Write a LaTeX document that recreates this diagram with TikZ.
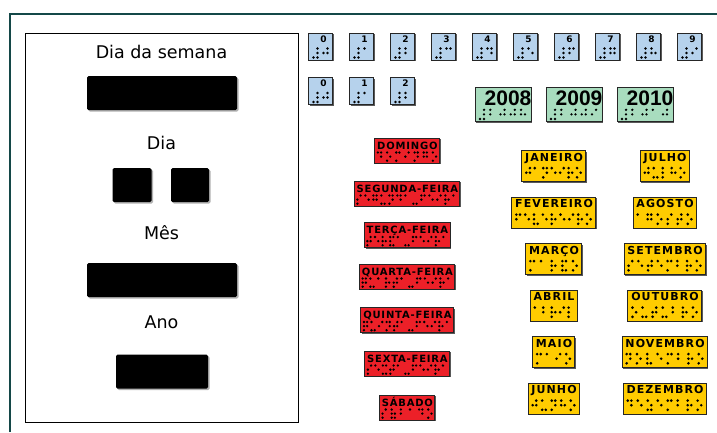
\documentclass[tikz,border=0pt]{standalone}
\usepackage{fontspec}
\setmainfont{DejaVu Sans}
\newfontfamily\dayfont[LetterSpace=8]{DejaVu Sans}
\newfontfamily\monthfont[LetterSpace=10]{DejaVu Sans}
\newfontfamily\yearfont{Liberation Sans}
\usetikzlibrary{shadows}
\definecolor{framecol}{RGB}{20,72,72}
\definecolor{digblue}{RGB}{182,210,236}
\definecolor{yeargreen}{RGB}{168,220,190}
\definecolor{dayred}{RGB}{236,32,40}
\definecolor{monthyellow}{RGB}{255,204,0}
% braille letters
\def\brldef#1#2{\expandafter\def\csname brl:#1\endcsname{#2}}
\brldef{A}{1}\brldef{B}{1,2}\brldef{C}{1,4}\brldef{D}{1,4,5}\brldef{E}{1,5}
\brldef{F}{1,2,4}\brldef{G}{1,2,4,5}\brldef{H}{1,2,5}\brldef{I}{2,4}\brldef{J}{2,4,5}
\brldef{K}{1,3}\brldef{L}{1,2,3}\brldef{M}{1,3,4}\brldef{N}{1,3,4,5}\brldef{O}{1,3,5}
\brldef{P}{1,2,3,4}\brldef{Q}{1,2,3,4,5}\brldef{R}{1,2,3,5}\brldef{S}{2,3,4}\brldef{T}{2,3,4,5}
\brldef{U}{1,3,6}\brldef{V}{1,2,3,6}\brldef{X}{1,3,4,6}\brldef{Z}{1,3,5,6}
\brldef{Ç}{1,2,3,4,6}\brldef{Á}{1,2,3,5,6}\brldef{-}{3,6}\brldef{+}{3,4,5,6}
\newcount\brln \newcount\brli \newdimen\brltmp
\def\brlcountloop#1{\ifx#1\relax\else\advance\brln by 1 \expandafter\brlcountloop\fi}
\def\brlcellloop#1{\ifx#1\relax\else\brlcell{#1}\advance\brli by 1 \expandafter\brlcellloop\fi}
\newcommand\brlcell[1]{%
  \edef\brldots{\csname brl:#1\endcsname}%
  \edef\brlii{\the\brli}%
  \foreach \dd in \brldots {%
    \pgfmathsetmacro\bcx{\bx+\brlii*\bp+(\dd>3)*\bdx}%
    \pgfmathsetmacro\bcy{\by+mod(\dd-1,3)*\bdy}%
    \fill (\bcx,\bcy) circle[radius=\brr];}}
% \brl{left}{right}{top}{dx}{dy}{r}{string}
\newcommand\brl[7]{%
  \pgfmathsetmacro\bx{#1}\pgfmathsetmacro\by{#3}%
  \def\bdx{#4}\def\bdy{#5}\def\brr{#6}%
  \brln=0 \brlcountloop#7\relax
  \edef\nn{\the\brln}%
  \pgfmathsetmacro\bp{((#2)-(#1)-#4)/max(\nn-1,1)}%
  \brli=0 \brlcellloop#7\relax}
\newcommand\anchorx[3]{\pgfextractx{\brltmp}{\pgfpointanchor{#1}{#2}}\pgfmathsetmacro#3{\brltmp}}
% tiles
\newcommand\daytile[3]{%
  \node[daybox] (#1) at (407,#2) {#3\kern-0.08em};
  \anchorx{#1}{west}\wx \anchorx{#1}{east}\ex
  \brl{\wx+3.5}{\ex-3.5}{#2+2}{3.2}{4.1}{1.3}{#3}}
\newcommand\monthtile[4]{%
  \node[monthbox] (#1) at (#2,#3) {#4\kern-0.1em};
  \anchorx{#1}{west}\wx \anchorx{#1}{east}\ex
  \brl{\wx+5}{\ex-5}{#3+2.1}{3.6}{4.6}{1.45}{#4}}
\newcommand\digtile[5]{%
  \node[digbox] (#1) at (#2,#3) {};
  \node[digtext] (#1t) at (#2+3,#3-7.5) {#4};
  \brl{#2-7}{#2+7}{#3+2}{4}{4.5}{1.3}{#5}}
\newcommand\yeartile[4]{%
  \node[yearbox] (#1) at (#2,104.5) {};
  \node[yeartext] (#1t) at (#2+5,105) {#3};
  \brl{#2-23}{#2+22}{109.8}{4}{4.6}{1.3}{#4}}
\begin{document}
\begin{tikzpicture}[x=1pt,y=-1pt,
  tshadow/.style={drop shadow={shadow xshift=1.4pt,shadow yshift=-1.4pt,fill=black!65,opacity=1}},
  barshadow/.style={drop shadow={shadow xshift=1.5pt,shadow yshift=-1.5pt,fill=black!30,opacity=1}},
  daybox/.style={draw=black!85,line width=0.6pt,fill=dayred,inner xsep=2.5pt,inner ysep=0pt,
     text height=11pt,text depth=14pt,font=\dayfont\bfseries\fontsize{10}{11}\selectfont,tshadow},
  monthbox/.style={draw=black!85,line width=0.6pt,fill=monthyellow,inner xsep=3.5pt,inner ysep=0pt,
     text height=10.5pt,text depth=20.5pt,font=\monthfont\bfseries\fontsize{11}{12}\selectfont,tshadow},
  digbox/.style={draw=black!85,line width=0.6pt,fill=digblue,minimum width=24,minimum height=27,inner sep=0pt,tshadow},
  digtext/.style={font=\bfseries\fontsize{9}{10}\selectfont,inner sep=0pt},
  yearbox/.style={draw=black!85,line width=0.6pt,fill=yeargreen,minimum width=56,minimum height=34,inner sep=0pt,tshadow},
  yeartext/.style={font=\yearfont\bfseries\fontsize{21}{22}\selectfont,inner sep=0pt,anchor=base},
  paneltext/.style={font=\fontsize{17.5}{19}\selectfont,inner sep=0pt,anchor=base},
  bar/.style={fill=black,rounded corners=1.5pt,inner sep=0pt,barshadow}]
\useasboundingbox (0,0) rectangle (717,432);
\fill[white] (0,0) rectangle (717,432);
% outer frame
\coordinate (fb) at (10,432); \coordinate (fc) at (10,14); \coordinate (fr) at (717,14);
\draw[framecol,line width=2.6pt] (fb) -- (fc) -- (fr);
% left panel
\node[draw,line width=1.2pt,minimum width=273,minimum height=389,anchor=north west,inner sep=0pt] (panel) at (25,33) {};
\node[paneltext] (lsem) at (161.5,58.5) {Dia da semana};
\node[bar,minimum width=150,minimum height=34] (bsem) at (162,93) {};
\node[paneltext] (ldia) at (161.5,149.5) {Dia};
\node[bar,minimum width=39,minimum height=34] (bd1) at (132,185) {};
\node[bar,minimum width=38,minimum height=34] (bd2) at (190,185) {};
\node[paneltext] (lmes) at (161.5,239.5) {Mês};
\node[bar,minimum width=150,minimum height=34] (bmes) at (162,280) {};
\node[paneltext] (lano) at (161.5,328.5) {Ano};
\node[bar,minimum width=92,minimum height=34] (bano) at (162,371.5) {};
% digit tiles
\digtile{d0}{320.5}{46.5}{0}{+J}
\digtile{d1}{361.5}{46.5}{1}{+A}
\digtile{d2}{402.5}{46.5}{2}{+B}
\digtile{d3}{443.5}{46.5}{3}{+C}
\digtile{d4}{484.5}{46.5}{4}{+D}
\digtile{d5}{525.5}{46.5}{5}{+E}
\digtile{d6}{566.5}{46.5}{6}{+F}
\digtile{d7}{607.5}{46.5}{7}{+G}
\digtile{d8}{648.5}{46.5}{8}{+H}
\digtile{d9}{689.5}{46.5}{9}{+I}
\digtile{e0}{320.5}{91}{0}{+J}
\digtile{e1}{361.5}{91}{1}{+A}
\digtile{e2}{402.5}{91}{2}{+B}
% year tiles
\yeartile{y8}{503}{2008}{+BJJH}
\yeartile{y9}{574}{2009}{+BJJI}
\yeartile{y10}{645}{2010}{+BJAJ}
% day tiles
\daytile{dom}{150.5}{DOMINGO}
\daytile{seg}{193.5}{SEGUNDA-FEIRA}
\daytile{ter}{235}{TERÇA-FEIRA}
\daytile{qua}{276.5}{QUARTA-FEIRA}
\daytile{qui}{320}{QUINTA-FEIRA}
\daytile{sex}{363.5}{SEXTA-FEIRA}
\daytile{sab}{407.5}{SÁBADO}
% month tiles
\monthtile{jan}{553.5}{166}{JANEIRO}
\monthtile{fev}{553.5}{212.5}{FEVEREIRO}
\monthtile{mar}{553.5}{259}{MARÇO}
\monthtile{abr}{553.5}{305.5}{ABRIL}
\monthtile{mai}{553.5}{352}{MAIO}
\monthtile{jun}{553.5}{398.5}{JUNHO}
\monthtile{jul}{664.5}{166}{JULHO}
\monthtile{ago}{664.5}{212.5}{AGOSTO}
\monthtile{set}{664.5}{259}{SETEMBRO}
\monthtile{out}{664.5}{305.5}{OUTUBRO}
\monthtile{nov}{664.5}{352}{NOVEMBRO}
\monthtile{dez}{664.5}{398.5}{DEZEMBRO}
\end{tikzpicture}
\end{document}
